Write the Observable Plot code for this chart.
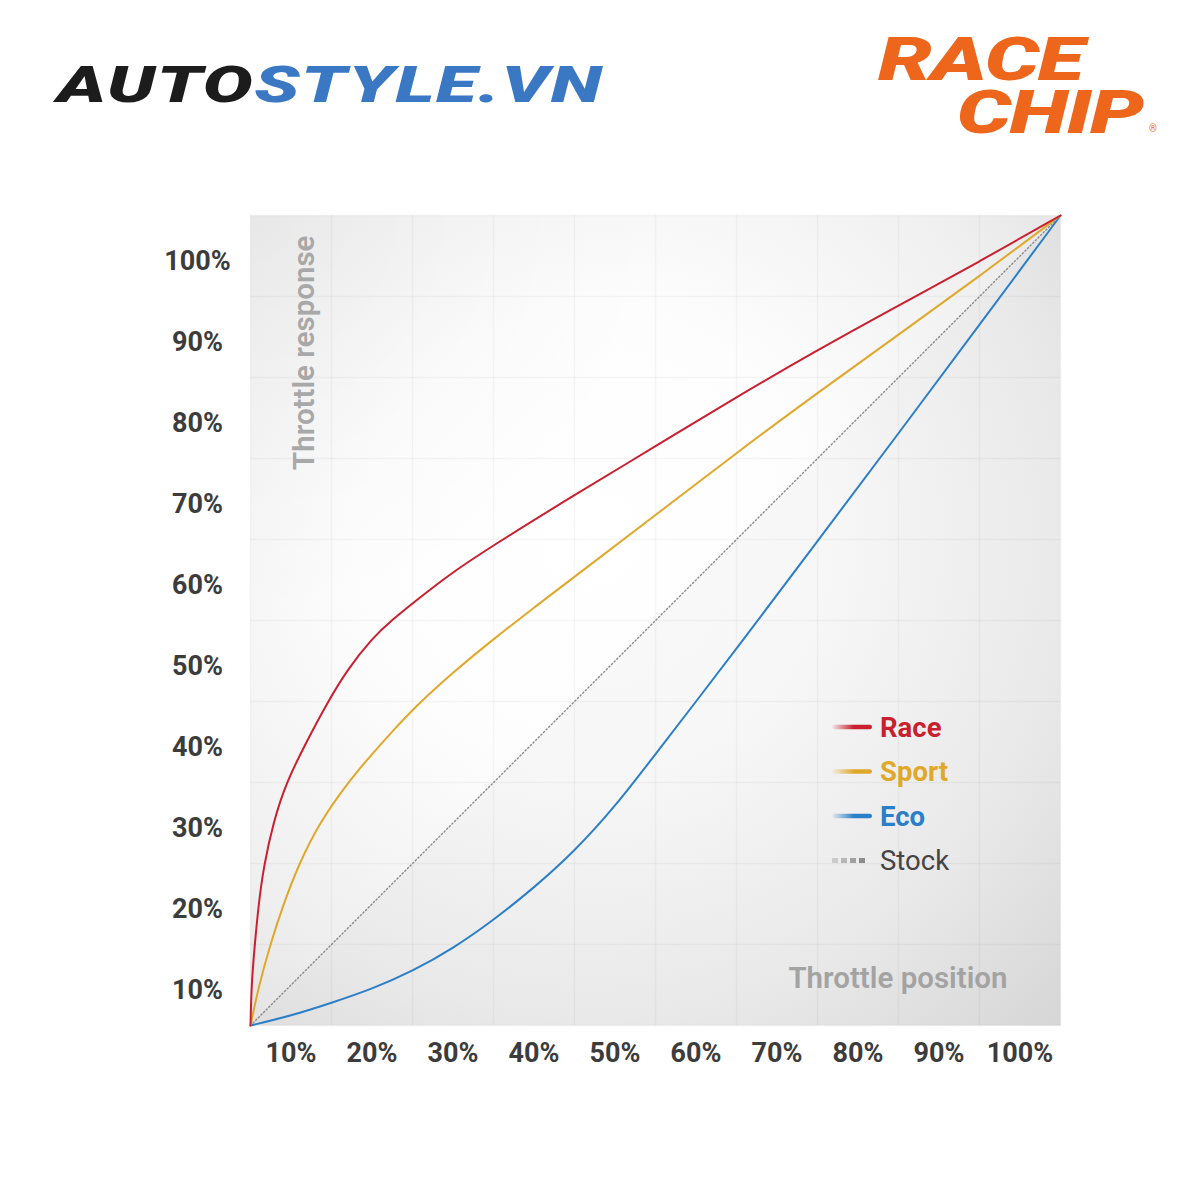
<!DOCTYPE html>
<html>
<head>
<meta charset="utf-8">
<script src="https://cdn.jsdelivr.net/npm/d3@7"></script>
<script src="https://cdn.jsdelivr.net/npm/@observablehq/plot@0.6"></script>
<style>
  body { margin: 0; background: #fff; font-family: Roboto, "Noto Sans", sans-serif; }
  #wrap { width: 1200px; }
  #header { position: relative; height: 160px; width: 1200px; overflow: hidden; }
  .logo { position: absolute; white-space: nowrap; line-height: 0.75; font-family: Roboto, sans-serif; font-style: italic; font-weight: 900; transform-origin: left top; }
  #auto { left: 57px; top: 68px; font-size: 49px; transform: scaleX(1.52); letter-spacing: 1px; }
  #auto .a { color: #1c1c1c; }
  #auto .b { color: #3b78c4; }
  #rc { left: 878px; top: 33px; font-size: 61px; line-height: 53px; white-space: pre; color: #ee661c; transform: scaleX(1.4); letter-spacing: -1px; }
  #reg { left: 1149px; top: 124px; font-size: 10px; font-style: normal; font-weight: 400; color: #ee661c; line-height: 1; }
</style>
</head>
<body>
<div id="wrap">
  <div id="header">
    <div class="logo" id="auto"><span class="a">AUTO</span><span class="b">STYLE.VN</span></div>
    <div class="logo" id="rc">RACE
    CHIP</div>
    <div class="logo" id="reg">®</div>
  </div>
  <div id="chart"></div>
</div>
<script>
// ---------- data (percent throttle position -> percent throttle response) ----------
const raceX  = [0, 0.12, 0.5, 1.0, 1.65, 2.8, 4.4, 7.0, 9.45, 12.0, 15.0, 17.5, 20.5, 24.7, 30, 40, 50, 60, 70, 80, 90, 100];
const raceY  = [0, 5, 9.7, 15, 19.75, 25, 30, 35.2, 39.8, 44.0, 47.8, 50.1, 52.5, 55.8, 59.3, 65.5, 71.5, 77.6, 83.4, 88.9, 94.3, 100];

const sportX = [0, 1, 2.5, 4, 6, 8.5, 12, 15, 17.5, 20.5, 25, 30, 35, 40, 50, 60, 70, 80, 90, 100];
const sportY = [0, 4.8, 10.2, 14.8, 20.0, 25.0, 30.0, 33.5, 36.3, 39.5, 43.6, 47.7, 51.6, 55.4, 63.0, 70.7, 78.1, 85.3, 92.5, 100];

const ecoX   = [0, 5, 10, 15, 20, 25, 30, 35, 40, 45, 50, 55, 60, 70, 80, 90, 100];
const ecoY   = [0, 1.2, 2.8, 4.5, 6.7, 9.5, 13.0, 17.0, 21.5, 27.0, 33.5, 40.0, 46.5, 59.8, 73.1, 86.5, 100];

const stockX = [0, 100];
const stockY = [0, 100];

const tickValues = [5, 15, 25, 35, 45, 55, 65, 75, 85, 95];
const tickLabels = ["10%", "20%", "30%", "40%", "50%", "60%", "70%", "80%", "90%", "100%"];
const gridValues = [0, 10, 20, 30, 40, 50, 60, 70, 80, 90, 100];

const seriesNames  = ["Race", "Sport", "Eco", "Stock"];
const seriesColors = ["#c91f2e", "#e0a82b", "#2b7ec8", "#8c8c8c"];
const yTitle = "Throttle response";
const xTitle = "Throttle position";

// ---------- build rows ----------
const toRows = (xs, ys) => xs.map((x, i) => ({x, y: ys[i]}));
const race = toRows(raceX, raceY);
const sport = toRows(sportX, sportY);
const eco = toRows(ecoX, ecoY);
const stock = toRows(stockX, stockY);

const labelOf = d => tickLabels[tickValues.indexOf(d)];

// defs for gradients
function defsMark() {
  const defs = d3.create("svg:defs");
  const bg = defs.append("radialGradient").attr("id", "bgGrad")
    .attr("cx", "0.42").attr("cy", "0.4").attr("r", "0.82");
  bg.append("stop").attr("offset", "0").attr("stop-color", "#ffffff");
  bg.append("stop").attr("offset", "0.35").attr("stop-color", "#fdfdfd");
  bg.append("stop").attr("offset", "0.72").attr("stop-color", "#efefef");
  bg.append("stop").attr("offset", "1").attr("stop-color", "#dddddd");
  const corner = defs.append("radialGradient").attr("id", "cornerGrad")
    .attr("cx", "0").attr("cy", "0").attr("r", "0.5");
  corner.append("stop").attr("offset", "0").attr("stop-color", "#000").attr("stop-opacity", 0.035);
  corner.append("stop").attr("offset", "1").attr("stop-color", "#000").attr("stop-opacity", 0);
  seriesColors.forEach((c, i) => {
    const g = defs.append("linearGradient").attr("id", "sw" + i)
      .attr("x1", "0").attr("x2", "1").attr("y1", "0").attr("y2", "0");
    g.append("stop").attr("offset", "0").attr("stop-color", c).attr("stop-opacity", 0.05);
    g.append("stop").attr("offset", "0.55").attr("stop-color", c).attr("stop-opacity", 1);
    g.append("stop").attr("offset", "1").attr("stop-color", c).attr("stop-opacity", 1);
  });
  return defs.node();
}

// legend inside the plot area
function legendMark(index, scales, values, dimensions) {
  const g = d3.create("svg:g");
  const x0 = dimensions.marginLeft + 582;
  const y0 = dimensions.marginTop + 512;
  const step = 44.5;
  seriesNames.forEach((name, i) => {
    const y = y0 + i * step;
    const isStock = name === "Stock";
    if (isStock) {
      const sq = g.append("g");
      [0, 1, 2, 3].forEach(k => {
        sq.append("rect")
          .attr("x", x0 + k * 9).attr("y", y - 2.5)
          .attr("width", 6).attr("height", 5)
          .attr("fill", seriesColors[i])
          .attr("fill-opacity", 0.35 + k * 0.22);
      });
    } else {
      g.append("rect")
        .attr("x", x0).attr("y", y - 2.3)
        .attr("width", 40).attr("height", 4.6)
        .attr("rx", 2.3)
        .attr("fill", `url(#sw${i})`);
    }
    g.append("text")
      .attr("x", x0 + 48).attr("y", y).attr("dy", "0.36em")
      .attr("text-anchor", "start")
      .attr("font-family", "Roboto, sans-serif")
      .attr("font-size", 27.5)
      .attr("font-weight", isStock ? 400 : 700)
      .attr("fill", isStock ? "#454545" : seriesColors[i])
      .text(name);
  });
  return g.node();
}

const chart = Plot.plot({
  width: 1200,
  height: 1040,
  marginTop: 55,
  marginBottom: 175,
  marginLeft: 250,
  marginRight: 140,
  style: {fontFamily: "Roboto, sans-serif", background: "transparent"},
  x: {domain: [0, 100]},
  y: {domain: [0, 100]},
  marks: [
    defsMark,
    Plot.frame({fill: "url(#bgGrad)"}),
    Plot.frame({fill: "url(#cornerGrad)"}),
    Plot.areaY(stock, {x: "x", y: "y", fill: "#000", fillOpacity: 0.025}),
    Plot.gridX(gridValues, {stroke: "#000", strokeOpacity: 0.035, strokeWidth: 1.5}),
    Plot.gridY(gridValues, {stroke: "#000", strokeOpacity: 0.035, strokeWidth: 1.5}),
    Plot.axisX(tickValues, {
      tickSize: 0, tickPadding: 17, tickFormat: labelOf, label: null,
      fontSize: 27, fontWeight: 700, color: "#3c3c3c"
    }),
    Plot.axisY(tickValues, {
      tickSize: 0, tickPadding: 3, tickFormat: labelOf, label: null,
      textAnchor: "middle", dx: -50, dy: 5,
      fontSize: 27, fontWeight: 700, color: "#3c3c3c"
    }),
    Plot.text([yTitle], {
      frameAnchor: "top-left", dx: 43, dy: 20, rotate: -90, textAnchor: "end",
      fontSize: 29.5, fontWeight: 600, fill: "#a8a8a8"
    }),
    Plot.text([xTitle], {
      frameAnchor: "bottom-right", dx: -53, dy: -38, textAnchor: "end",
      fontSize: 29.5, fontWeight: 600, fill: "#a3a3a3"
    }),
    Plot.line(stock, {x: "x", y: "y", stroke: seriesColors[3], strokeWidth: 1.4, strokeDasharray: "1.3 2.4"}),
    Plot.line(eco, {x: "x", y: "y", stroke: seriesColors[2], strokeWidth: 2, curve: "basis"}),
    Plot.line(sport, {x: "x", y: "y", stroke: seriesColors[1], strokeWidth: 2, curve: "basis"}),
    Plot.line(race, {x: "x", y: "y", stroke: seriesColors[0], strokeWidth: 2, curve: "basis"}),
    legendMark
  ]
});
document.getElementById("chart").appendChild(chart);
</script>
</body>
</html>
